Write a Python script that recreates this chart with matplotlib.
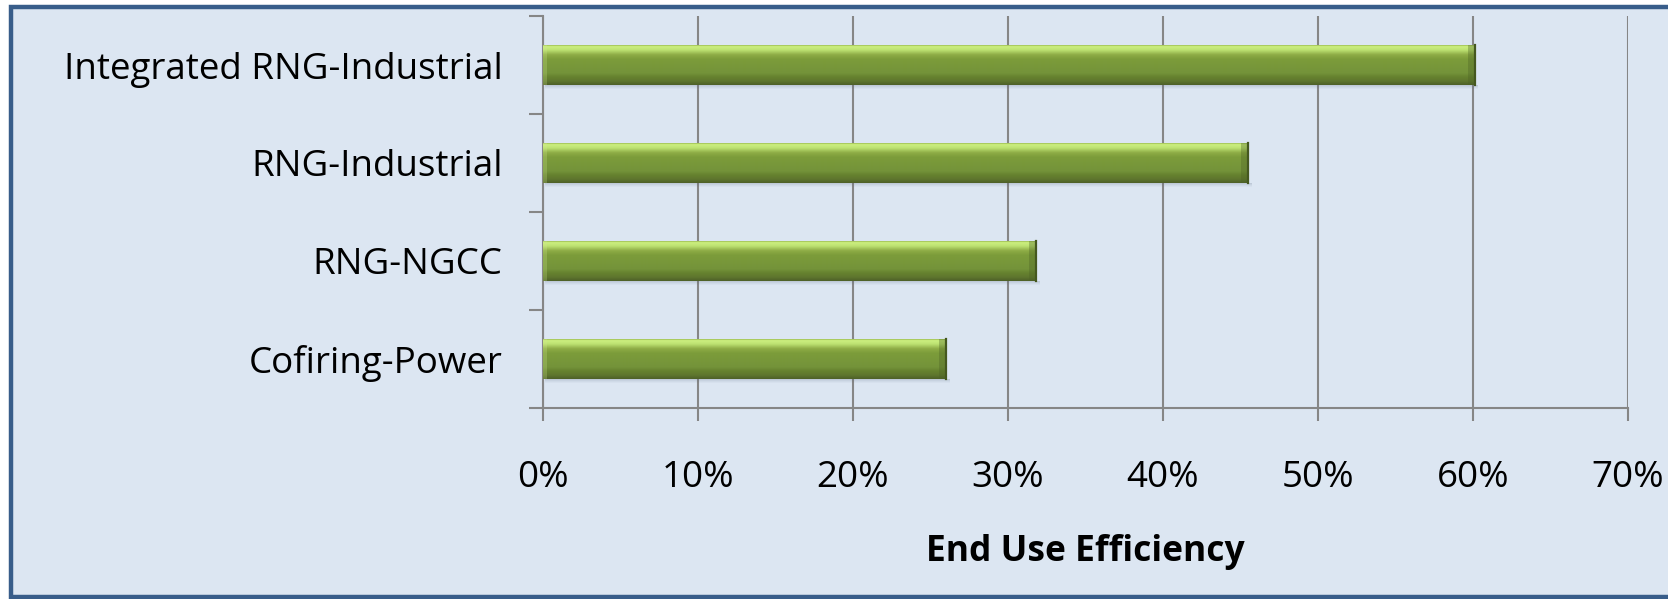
import matplotlib
matplotlib.use("Agg")
import matplotlib.pyplot as plt
import numpy as np
from matplotlib.colors import LinearSegmentedColormap
from matplotlib.patches import Rectangle
from matplotlib.ticker import MultipleLocator, PercentFormatter

categories = ["Cofiring-Power", "RNG-NGCC", "RNG-Industrial", "Integrated RNG-Industrial"]
efficiency = [26.0, 31.8, 45.5, 60.1]
xticks = [0, 10, 20, 30, 40, 50, 60, 70]
xlabel = "End Use Efficiency"

BG = "#dce6f2"
FRAME = "#385d8a"
GRID = "#868686"

plt.rcParams["font.family"] = ["Open Sans", "DejaVu Sans"]

W, H = 1668, 599
fig = plt.figure(figsize=(W / 100, H / 100), dpi=100)
fig.patch.set_facecolor("white")

# chart area with a blue frame
fig.patches.append(Rectangle((11 / W, 2 / H), 1.2, (H - 9) / H,
                             transform=fig.transFigure, facecolor=BG,
                             edgecolor=FRAME, linewidth=3.2, zorder=-5))

ax = fig.add_axes([543 / W, 1 - 408 / H, (1628 - 543) / W, (408 - 16) / H])
ax.set_facecolor(BG)
ax.patch.set_alpha(0)

bar_h = 0.4
y = np.arange(len(categories))

# bevelled green bars
bar_cmap = LinearSegmentedColormap.from_list("bar", [
    (0.00, "#9aba50"), (0.03, "#cdf080"), (0.12, "#bde272"),
    (0.24, "#8eac46"), (0.35, "#7c9c3a"), (0.70, "#74933a"),
    (0.80, "#66822f"), (0.90, "#5f772e"), (1.00, "#4e6028")])
grad = np.linspace(0, 1, 200).reshape(-1, 1)

bars = ax.barh(y, efficiency, height=bar_h, color="none", zorder=3)
for rect, v, yc in zip(bars, efficiency, y):
    # soft shadow under each bar
    for k, a in enumerate([0.22, 0.15, 0.09, 0.04]):
        ax.add_patch(Rectangle((0.15, yc - bar_h / 2 - 0.012 * (k + 1)), v + 0.1, 0.012,
                               facecolor="#55657a", alpha=a, edgecolor="none", zorder=2))
    im = ax.imshow(grad, cmap=bar_cmap, aspect="auto", interpolation="bilinear",
                   extent=[0, v, yc - bar_h / 2, yc + bar_h / 2], zorder=3)
    im.set_clip_path(rect)
    # darker right end and lighter left end
    ax.add_patch(Rectangle((v - 0.45, yc - bar_h / 2), 0.45, bar_h,
                           facecolor="#4d6325", alpha=0.35, edgecolor="none", zorder=4))
    ax.add_patch(Rectangle((0, yc - bar_h / 2), 0.25, bar_h,
                           facecolor="#cfe98f", alpha=0.25, edgecolor="none", zorder=4))
    ax.plot([v, v], [yc - bar_h / 2, yc + bar_h / 2], color="#45581f", lw=1.6, zorder=5)

ax.set_xlim(0, 70)
ax.set_ylim(-0.5, len(categories) - 0.5)

ax.set_xticks(xticks)
ax.xaxis.set_major_formatter(PercentFormatter(decimals=0))
ax.grid(axis="x", color=GRID, linewidth=1.5, zorder=1)
ax.set_axisbelow(True)

ax.set_yticks(y)
ax.set_yticklabels(categories)
ax.yaxis.set_minor_locator(MultipleLocator(1, offset=0.5))
ax.tick_params(axis="y", which="major", length=0, pad=29, labelsize=26.5)
ax.tick_params(axis="y", which="minor", length=10, width=1.5, color=GRID, direction="out")
ax.tick_params(axis="x", which="major", length=9.5, width=1.5, color=GRID,
               direction="out", pad=28, labelsize=26.5)

for s in ["top", "right"]:
    ax.spines[s].set_visible(False)
for s in ["left", "bottom"]:
    ax.spines[s].set_color(GRID)
    ax.spines[s].set_linewidth(1.5)

ax.set_xlabel(xlabel, fontsize=25.5, fontweight="bold", labelpad=27)

fig.savefig("out.png", dpi=100, facecolor=fig.get_facecolor())
